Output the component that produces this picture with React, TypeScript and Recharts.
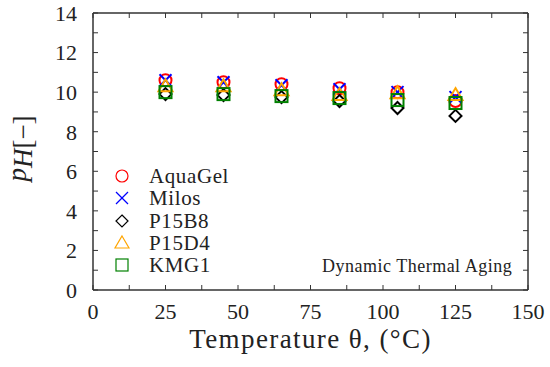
import React from 'react';
import { ScatterChart, Scatter, XAxis, YAxis } from 'recharts';

if (typeof document !== 'undefined') document.body.style.margin = '0';

const temperatures = [25, 45, 65, 85, 105, 125];
const aquaGel = [10.6, 10.5, 10.4, 10.2, 10.0, 9.55];
const milos = [10.6, 10.5, 10.35, 10.15, 10.0, 9.75];
const p15b8 = [9.9, 9.85, 9.75, 9.55, 9.2, 8.8];
const p15d4 = [10.3, 10.3, 10.1, 9.85, 9.95, 9.85];
const kmg1 = [10.0, 9.9, 9.8, 9.7, 9.6, 9.45];

const xLabels = [0, 25, 50, 75, 100, 125, 150];
const xMinor = [0, 12.5, 25, 37.5, 50, 62.5, 75, 87.5, 100, 112.5, 125, 137.5, 150];
const yLabels = [0, 2, 4, 6, 8, 10, 12, 14];
const yMinor = [0, 1, 2, 3, 4, 5, 6, 7, 8, 9, 10, 11, 12, 13, 14];

const FONT = '"Liberation Serif", serif';
const AXIS = '#333';
const TEXT = '#222';

type MarkerKind = 'circle' | 'x' | 'diamond' | 'triangle' | 'square';

const series: { name: string; values: number[]; color: string; kind: MarkerKind }[] = [
    { name: 'AquaGel', values: aquaGel, color: '#ff0000', kind: 'circle' },
    { name: 'Milos', values: milos, color: '#0000ff', kind: 'x' },
    { name: 'P15B8', values: p15b8, color: '#000000', kind: 'diamond' },
    { name: 'P15D4', values: p15d4, color: '#ffa500', kind: 'triangle' },
    { name: 'KMG1', values: kmg1, color: '#008000', kind: 'square' },
];

const Marker = ({ kind, cx, cy, color, w }: { kind: MarkerKind; cx: number; cy: number; color: string; w: number }) => {
    const s = 6;
    const common = { fill: 'none', stroke: color, strokeWidth: w };
    switch (kind) {
        case 'circle':
            return <circle cx={cx} cy={cy} r={s} {...common} />;
        case 'x':
            return (
                <g {...common}>
                    <line x1={cx - s} y1={cy - s} x2={cx + s} y2={cy + s} />
                    <line x1={cx - s} y1={cy + s} x2={cx + s} y2={cy - s} />
                </g>
            );
        case 'diamond':
            return <polygon points={`${cx},${cy - s} ${cx + s},${cy} ${cx},${cy + s} ${cx - s},${cy}`} {...common} />;
        case 'triangle':
            return <polygon points={`${cx},${cy - s - 1} ${cx + s + 1},${cy + s - 1} ${cx - s - 1},${cy + s - 1}`} {...common} />;
        default:
            return <rect x={cx - s} y={cy - s} width={2 * s} height={2 * s} {...common} />;
    }
};

const YLabel = (props: any) => {
    const vb = props.viewBox || {};
    const cx = 32;
    const cy = (vb.y ?? 13) + (vb.height ?? 277) / 2 - 3;
    return (
        <text
            x={cx}
            y={cy}
            transform={`rotate(-90, ${cx}, ${cy})`}
            textAnchor="middle"
            fontFamily={FONT}
            fontSize={27}
            fill={TEXT}
        >
            <tspan fontStyle="italic" dy={-6}>p</tspan>
            <tspan fontStyle="italic" dy={6}>H</tspan>
            <tspan>[−]</tspan>
        </text>
    );
};

// tick-only axes, mirrored so the marks point into the plot
const tickAxis = {
    tick: { fontSize: 0, fill: 'none' },
    tickFormatter: () => '',
    axisLine: false,
    tickLine: { stroke: AXIS, strokeWidth: 1 },
    tickSize: 5,
    mirror: true,
    interval: 0 as const,
    allowDataOverflow: true,
};

const App = () => {
    return (
        <div style={{ position: 'relative', width: 550, height: 367, background: '#fff' }}>
            <ScatterChart width={550} height={367} margin={{ top: 13, right: 22, bottom: 0, left: 0 }}>
                <XAxis
                    xAxisId="b"
                    type="number"
                    dataKey="x"
                    domain={[0, 150]}
                    ticks={xLabels}
                    interval={0}
                    height={77}
                    tickLine={false}
                    tickMargin={7}
                    axisLine={{ stroke: AXIS, strokeWidth: 1.5 }}
                    tick={{ fill: TEXT, fontFamily: FONT, fontSize: 22 }}
                    label={{
                        value: 'Temperature θ, (°C)',
                        position: 'insideBottom',
                        offset: 19,
                        fill: TEXT,
                        fontFamily: FONT,
                        fontSize: 27,
                        letterSpacing: 1.4,
                    }}
                />
                <XAxis xAxisId="bm" type="number" dataKey="x" domain={[0, 150]} ticks={xMinor} height={1} {...tickAxis} />
                <XAxis
                    xAxisId="t"
                    orientation="top"
                    type="number"
                    dataKey="x"
                    domain={[0, 150]}
                    ticks={xMinor}
                    height={1}
                    {...tickAxis}
                    axisLine={{ stroke: AXIS, strokeWidth: 1.5 }}
                />
                <YAxis
                    yAxisId="l"
                    type="number"
                    dataKey="y"
                    domain={[0, 14]}
                    ticks={yLabels}
                    interval={0}
                    width={93}
                    tickLine={false}
                    tickMargin={10}
                    axisLine={{ stroke: AXIS, strokeWidth: 1.5 }}
                    tick={{ fill: TEXT, fontFamily: FONT, fontSize: 22 }}
                    label={<YLabel />}
                />
                <YAxis yAxisId="lm" type="number" dataKey="y" domain={[0, 14]} ticks={yMinor} width={1} {...tickAxis} />
                <YAxis
                    yAxisId="r"
                    orientation="right"
                    type="number"
                    dataKey="y"
                    domain={[0, 14]}
                    ticks={yMinor}
                    width={1}
                    {...tickAxis}
                    axisLine={{ stroke: AXIS, strokeWidth: 1.5 }}
                />
                {series.map((s) => (
                    <Scatter
                        key={s.name}
                        name={s.name}
                        xAxisId="b"
                        yAxisId="l"
                        data={temperatures.map((t, i) => ({ x: t, y: s.values[i] }))}
                        isAnimationActive={false}
                        shape={(p: any) => <Marker kind={s.kind} cx={p.cx} cy={p.cy} color={s.color} w={2} />}
                    />
                ))}
                <Scatter
                    name="frame-bottom-left"
                    xAxisId="bm"
                    yAxisId="lm"
                    data={temperatures.map((t, i) => ({ x: t, y: kmg1[i] }))}
                    isAnimationActive={false}
                    shape={() => <g />}
                    legendType="none"
                />
                <Scatter
                    name="frame-top-right"
                    xAxisId="t"
                    yAxisId="r"
                    data={temperatures.map((t, i) => ({ x: t, y: kmg1[i] }))}
                    isAnimationActive={false}
                    shape={() => <g />}
                    legendType="none"
                />
            </ScatterChart>
            <div
                style={{
                    position: 'absolute',
                    left: 112,
                    top: 165,
                    fontFamily: FONT,
                    fontSize: 21,
                    color: TEXT,
                    lineHeight: '22.3px',
                }}
            >
                {series.map((s) => (
                    <div key={s.name} style={{ display: 'flex', alignItems: 'center', height: 22.3 }}>
                        <svg width={20} height={22} style={{ marginRight: 17 }}>
                            <Marker kind={s.kind} cx={10} cy={11} color={s.color} w={1.2} />
                        </svg>
                        <span style={{ letterSpacing: 0.6 }}>{s.name}</span>
                    </div>
                ))}
            </div>
            <div
                style={{
                    position: 'absolute',
                    left: 322,
                    top: 256,
                    fontFamily: FONT,
                    fontSize: 18,
                    color: TEXT,
                    whiteSpace: 'nowrap',
                    letterSpacing: 0.5,
                }}
            >
                Dynamic Thermal Aging
            </div>
        </div>
    );
};

export default App;
